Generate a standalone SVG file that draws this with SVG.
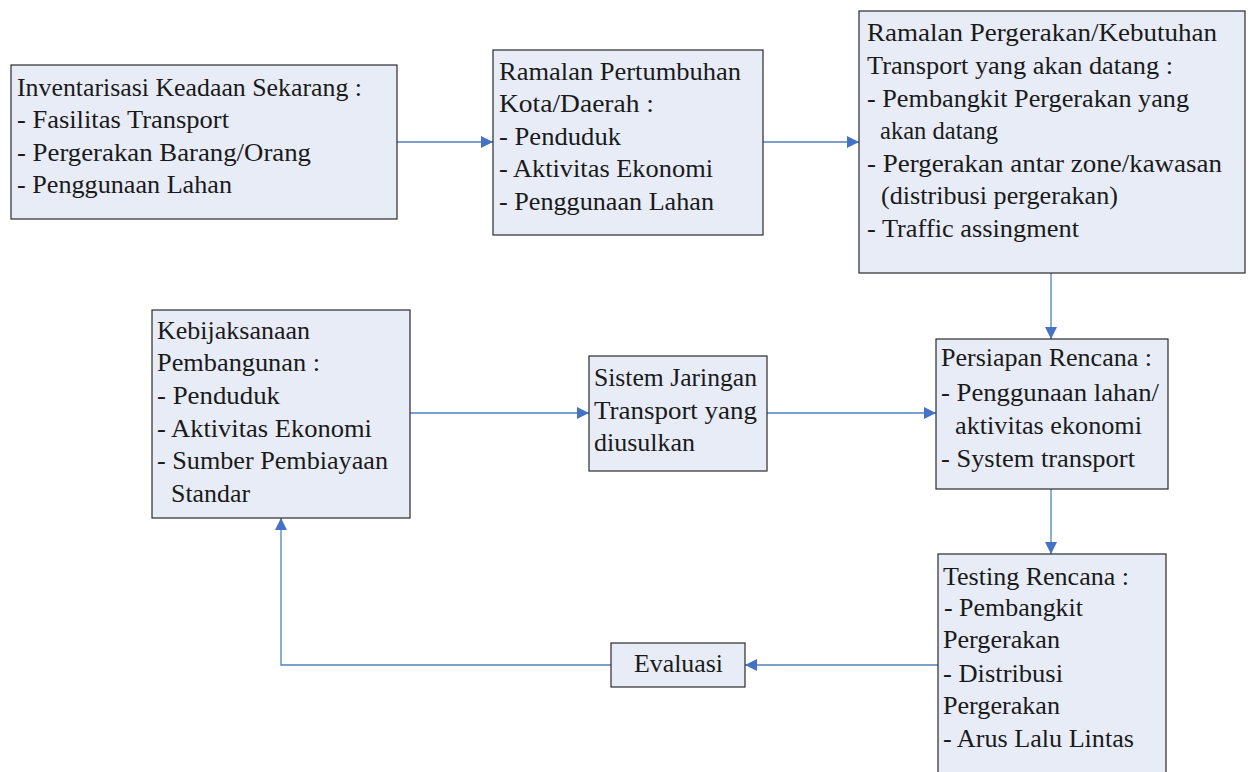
<svg xmlns="http://www.w3.org/2000/svg" width="1253" height="772" viewBox="0 0 1253 772">
<style>
.box{fill:#e7ecf7;stroke:#2b2b2b;stroke-width:1.2}
.t{font-family:'Liberation Serif','Times New Roman','DejaVu Serif',serif;font-size:25px;fill:#1a1a1a}
.c{fill:none;stroke:#4f81bd;stroke-width:1.3}
</style>
<defs>
<marker id="a" viewBox="0 0 10 10" refX="10" refY="5" markerWidth="12" markerHeight="12" markerUnits="userSpaceOnUse" orient="auto">
<path d="M0,0 L10,5 L0,10 z" fill="#4472c4"/>
</marker>
</defs>
<rect width="1253" height="772" fill="#fff"/>
<g id="connectors">
<path class="c" d="M397,142 H493" marker-end="url(#a)"/>
<path class="c" d="M763,142 H859" marker-end="url(#a)"/>
<path class="c" d="M1051,273 V339" marker-end="url(#a)"/>
<path class="c" d="M410,413 H589" marker-end="url(#a)"/>
<path class="c" d="M767,413 H936" marker-end="url(#a)"/>
<path class="c" d="M1051,489 V554" marker-end="url(#a)"/>
<path class="c" d="M938,665 H745" marker-end="url(#a)"/>
<path class="c" d="M611,665 H281 V518" marker-end="url(#a)"/>
</g>
<g id="inventarisasi" class="t">
<rect class="box" x="11" y="65" width="386" height="154"/>
<text x="17" y="96" textLength="345" lengthAdjust="spacingAndGlyphs">Inventarisasi Keadaan Sekarang :</text>
<text x="17" y="128" textLength="212" lengthAdjust="spacingAndGlyphs">- Fasilitas Transport</text>
<text x="17" y="161" textLength="294" lengthAdjust="spacingAndGlyphs">- Pergerakan Barang/Orang</text>
<text x="17" y="193" textLength="215" lengthAdjust="spacingAndGlyphs">- Penggunaan Lahan</text>
</g>
<g id="ramalan-pertumbuhan" class="t">
<rect class="box" x="493" y="50" width="270" height="185"/>
<text x="499" y="80" textLength="242" lengthAdjust="spacingAndGlyphs">Ramalan Pertumbuhan</text>
<text x="499" y="112" textLength="155" lengthAdjust="spacingAndGlyphs">Kota/Daerah :</text>
<text x="499" y="145" textLength="122" lengthAdjust="spacingAndGlyphs">- Penduduk</text>
<text x="499" y="177" textLength="214" lengthAdjust="spacingAndGlyphs">- Aktivitas Ekonomi</text>
<text x="499" y="210" textLength="215" lengthAdjust="spacingAndGlyphs">- Penggunaan Lahan</text>
</g>
<g id="ramalan-pergerakan" class="t">
<rect class="box" x="859" y="11" width="386" height="262"/>
<text x="867" y="41" textLength="350" lengthAdjust="spacingAndGlyphs">Ramalan Pergerakan/Kebutuhan</text>
<text x="867" y="74" textLength="306" lengthAdjust="spacingAndGlyphs">Transport yang akan datang :</text>
<text x="867" y="107" textLength="322" lengthAdjust="spacingAndGlyphs">- Pembangkit Pergerakan yang</text>
<text x="880" y="139" textLength="118" lengthAdjust="spacingAndGlyphs">akan datang</text>
<text x="867" y="172" textLength="355" lengthAdjust="spacingAndGlyphs">- Pergerakan antar zone/kawasan</text>
<text x="881" y="204" textLength="237" lengthAdjust="spacingAndGlyphs">(distribusi pergerakan)</text>
<text x="867" y="237" textLength="212" lengthAdjust="spacingAndGlyphs">- Traffic assingment</text>
</g>
<g id="kebijaksanaan" class="t">
<rect class="box" x="152" y="310" width="258" height="208"/>
<text x="157" y="339" textLength="153" lengthAdjust="spacingAndGlyphs">Kebijaksanaan</text>
<text x="157" y="371" textLength="163" lengthAdjust="spacingAndGlyphs">Pembangunan :</text>
<text x="157" y="404" textLength="123" lengthAdjust="spacingAndGlyphs">- Penduduk</text>
<text x="157" y="437" textLength="215" lengthAdjust="spacingAndGlyphs">- Aktivitas Ekonomi</text>
<text x="157" y="469" textLength="231" lengthAdjust="spacingAndGlyphs">- Sumber Pembiayaan</text>
<text x="171" y="502" textLength="79" lengthAdjust="spacingAndGlyphs">Standar</text>
</g>
<g id="sistem-jaringan" class="t">
<rect class="box" x="589" y="356" width="178" height="115"/>
<text x="594" y="386" textLength="163" lengthAdjust="spacingAndGlyphs">Sistem Jaringan</text>
<text x="594" y="419" textLength="163" lengthAdjust="spacingAndGlyphs">Transport yang</text>
<text x="594" y="451" textLength="101" lengthAdjust="spacingAndGlyphs">diusulkan</text>
</g>
<g id="persiapan" class="t">
<rect class="box" x="936" y="339" width="232" height="150"/>
<text x="941" y="366" textLength="211" lengthAdjust="spacingAndGlyphs">Persiapan Rencana :</text>
<text x="941" y="401" textLength="218" lengthAdjust="spacingAndGlyphs">- Penggunaan lahan/</text>
<text x="955" y="434" textLength="187" lengthAdjust="spacingAndGlyphs">aktivitas ekonomi</text>
<text x="941" y="467" textLength="194" lengthAdjust="spacingAndGlyphs">- System transport</text>
</g>
<g id="testing" class="t">
<rect class="box" x="938" y="554" width="228" height="230"/>
<text x="943" y="585" textLength="186" lengthAdjust="spacingAndGlyphs">Testing Rencana :</text>
<text x="944" y="616" textLength="139" lengthAdjust="spacingAndGlyphs">- Pembangkit</text>
<text x="943" y="648" textLength="117" lengthAdjust="spacingAndGlyphs">Pergerakan</text>
<text x="943" y="682" textLength="120" lengthAdjust="spacingAndGlyphs">- Distribusi</text>
<text x="943" y="714" textLength="117" lengthAdjust="spacingAndGlyphs">Pergerakan</text>
<text x="943" y="747" textLength="191" lengthAdjust="spacingAndGlyphs">- Arus Lalu Lintas</text>
</g>
<g id="evaluasi" class="t">
<rect class="box" x="611" y="643" width="134" height="44"/>
<text x="634" y="672" textLength="89" lengthAdjust="spacingAndGlyphs">Evaluasi</text>
</g>
</svg>
